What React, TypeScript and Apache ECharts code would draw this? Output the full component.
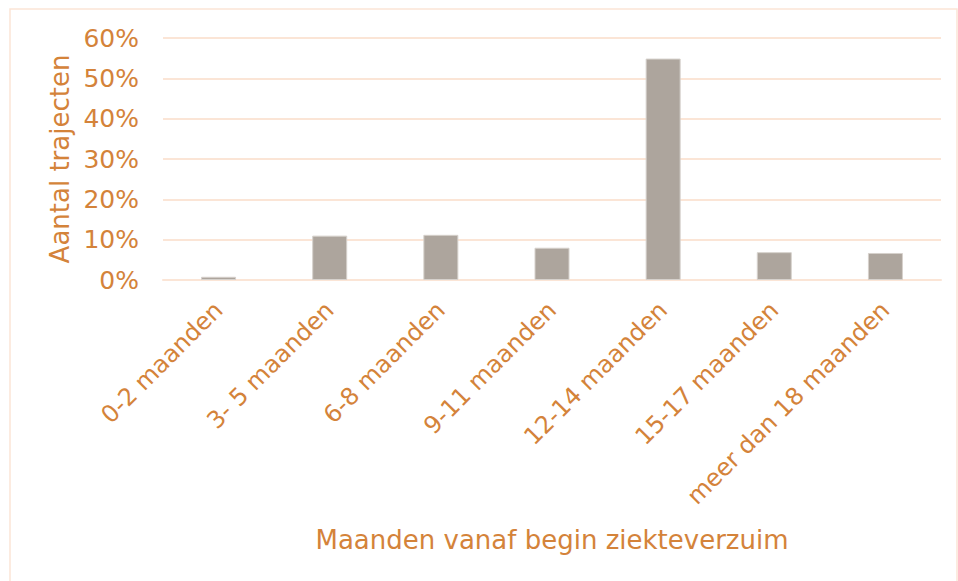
import React, { useEffect, useRef } from "react";
import * as echarts from "echarts";

const categories = [
  "0-2 maanden",
  "3- 5 maanden",
  "6-8 maanden",
  "9-11 maanden",
  "12-14 maanden",
  "15-17 maanden",
  "meer dan 18 maanden",
];
const values = [0.8, 11.0, 11.2, 8.0, 54.9, 6.9, 6.7];
const yTicks = [0, 10, 20, 30, 40, 50, 60];

const TEXT = "#D4833A";
const GRID = "#FBE5D6";
const FONT = "Verdana, 'DejaVu Sans', sans-serif";

export default function App() {
  const ref = useRef<HTMLDivElement>(null);
  useEffect(() => {
    if (!ref.current) return;
    const chart = echarts.init(ref.current, null, { renderer: "svg" });
    chart.setOption({
      animation: false,
      backgroundColor: "#ffffff",
      graphic: [
        {
          type: "rect",
          shape: { x: 10, y: 9, width: 947, height: 620 },
          style: { fill: "none", stroke: GRID, lineWidth: 1.5 },
          silent: true,
        },
      ],
      grid: { left: 163, right: 17, top: 38, bottom: 301, containLabel: false },
      xAxis: {
        type: "category",
        data: categories,
        name: "Maanden vanaf begin ziekteverzuim",
        nameLocation: "middle",
        nameGap: 247,
        nameTextStyle: { color: TEXT, fontSize: 26, fontFamily: FONT },
        axisLine: { show: true, lineStyle: { color: GRID, width: 2 } },
        axisTick: { show: false },
        axisLabel: {
          rotate: 45,
          color: TEXT,
          fontSize: 24,
          fontFamily: FONT,
          margin: 26,
          interval: 0,
        },
      },
      yAxis: {
        type: "value",
        min: 0,
        max: 60,
        interval: 10,
        name: "Aantal trajecten",
        nameLocation: "middle",
        nameGap: 90,
        nameTextStyle: { color: TEXT, fontSize: 26, fontFamily: FONT },
        axisLine: { show: false },
        axisTick: { show: false },
        splitLine: { show: true, lineStyle: { color: GRID, width: 2 } },
        axisLabel: {
          color: TEXT,
          fontSize: 25,
          fontFamily: FONT,
          margin: 24,
          formatter: (v: number) => (yTicks.includes(v) ? v + "%" : ""),
        },
      },
      series: [
        {
          type: "bar",
          data: values,
          barWidth: 35,
          itemStyle: { color: "#ADA59D", borderColor: "#D6D1CC", borderWidth: 1 },
        },
      ],
    });
    return () => chart.dispose();
  }, []);
  return <div ref={ref} style={{ width: 958, height: 581, position: "absolute", left: 0, top: 0 }} />;
}
